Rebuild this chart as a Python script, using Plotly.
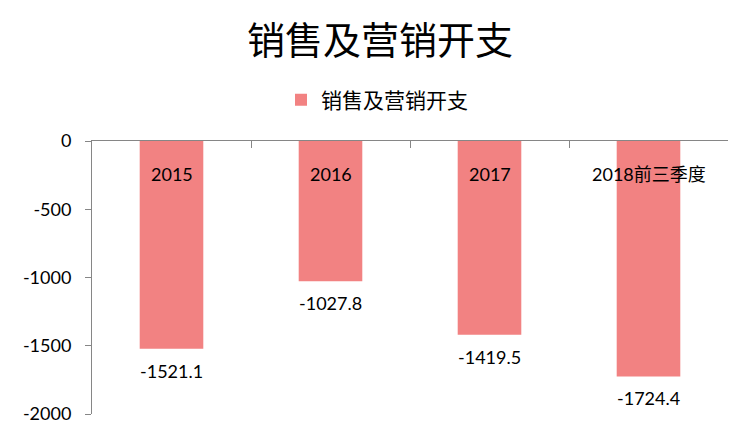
import plotly.graph_objects as go

categories = ["2015", "2016", "2017", "2018前三季度"]
values = [-1521.1, -1027.8, -1419.5, -1724.4]
series_name = "销售及营销开支"
title_text = "销售及营销开支"
y_tickvals = [0, -500, -1000, -1500, -2000]
y_ticktext = ["0", "-500", "-1000", "-1500", "-2000"]

NUM_FONT = "Lato, 'Noto Sans CJK SC', sans-serif"
CJK_FONT = "'Noto Sans CJK SC', sans-serif"
BAR_COLOR = "#F28282"
AXIS_COLOR = "#868686"

# page body has an 8px margin; figure is sized so the plot area lands where the reference has it
W, H = 744, 431
ML, MR, MT, MB = 84, 24, 133, 25
PLOT_H = H - MT - MB

fig = go.Figure()
fig.add_trace(go.Bar(
    x=categories, y=values, name=series_name,
    marker=dict(color=BAR_COLOR, line=dict(width=0)),
    width=0.4, showlegend=True,
))

annotations = []
for i, (c, v) in enumerate(zip(categories, values)):
    annotations.append(dict(x=i, y=v, xref="x", yref="y", text=f"{v:.1f}",
                            showarrow=False, yshift=-22,
                            font=dict(family=NUM_FONT, size=18, color="#000000")))
    annotations.append(dict(x=i, y=0, xref="x", yref="y", text=c,
                            showarrow=False, yshift=-33,
                            font=dict(family=NUM_FONT, size=18, color="#000000")))

fig.update_layout(
    width=W, height=H,
    margin=dict(l=ML, r=MR, t=MT, b=MB, autoexpand=False),
    paper_bgcolor="white", plot_bgcolor="white",
    title=dict(text=title_text, x=0.5, xanchor="center", y=1 - 33 / H, yanchor="middle",
               font=dict(family=CJK_FONT, size=38, color="#000000")),
    legend=dict(orientation="h", xref="container", x=369 / W, xanchor="center",
                y=(H - MB - 92) / PLOT_H, yanchor="middle",
                font=dict(family=CJK_FONT, size=21, color="#000000"),
                itemsizing="constant"),
    showlegend=True,
    annotations=annotations,
    xaxis=dict(type="category", categoryorder="array", categoryarray=categories,
               range=[-0.5, len(categories) - 0.5],
               side="top", showline=True, linecolor=AXIS_COLOR, linewidth=1,
               ticks="inside", tickson="boundaries", ticklen=7, tickcolor=AXIS_COLOR,
               showticklabels=False, showgrid=False, zeroline=False),
    yaxis=dict(range=[-2000, 0], tickvals=y_tickvals, ticktext=y_ticktext,
               showline=True, linecolor=AXIS_COLOR, linewidth=1,
               ticks="outside", ticklen=6, tickcolor=AXIS_COLOR, showgrid=False, zeroline=False,
               ticklabelstandoff=10,
               tickfont=dict(family=NUM_FONT, size=18, color="#000000")),
)

fig.write_html("out.html")
